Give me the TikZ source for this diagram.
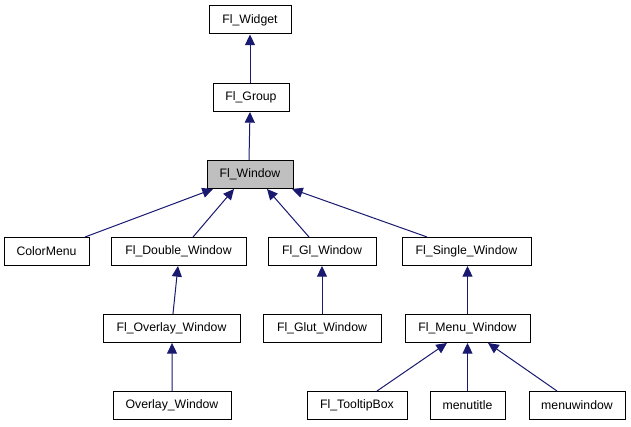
\documentclass[tikz,border=0pt]{standalone}
\usepackage{fontspec}
\setmainfont{Liberation Sans}
\usetikzlibrary{arrows.meta}
\definecolor{edgeblue}{HTML}{191970}
\definecolor{hilite}{HTML}{BFBFBF}
\begin{document}
\begin{tikzpicture}[x=0.75pt,y=-0.75pt,
  cls/.style={draw=black,line width=0.75pt,fill=white,inner sep=0pt,
    minimum height=21pt,font=\fontsize{9.2}{10}\selectfont},
  inh/.style={draw=edgeblue,line width=0.75pt,
    -{Triangle[length=8pt,width=7.5pt,fill=edgeblue]}}]
\useasboundingbox (0,0) rectangle (631,427);
\fill[white] (0,0) rectangle (631,427);
\node[cls,minimum width=61.5pt] (widget) at (250,20) {Fl\_Widget};
\node[cls,minimum width=57pt] (group) at (251,97.5) {Fl\_Group};
\node[cls,minimum width=64.5pt,fill=hilite] (window) at (250,174.5) {Fl\_Window};
\node[cls,minimum width=63.75pt] (colormenu) at (46.5,251.5) {ColorMenu};
\node[cls,minimum width=101.25pt] (double) at (178.5,251.5) {Fl\_Double\_Window};
\node[cls,minimum width=81pt] (gl) at (322,251.5) {Fl\_Gl\_Window};
\node[cls,minimum width=96.75pt] (single) at (466.5,251.5) {Fl\_Single\_Window};
\node[cls,minimum width=102.75pt] (overlay) at (171.5,328.5) {Fl\_Overlay\_Window};
\node[cls,minimum width=88.5pt] (glut) at (322,328.5) {Fl\_Glut\_Window};
\node[cls,minimum width=93.75pt] (menu) at (467.5,328.5) {Fl\_Menu\_Window};
\node[cls,minimum width=88.5pt] (overlaywin) at (172,405.5) {Overlay\_Window};
\node[cls,minimum width=75pt] (tooltip) at (357,405.5) {Fl\_TooltipBox};
\node[cls,minimum width=56.25pt] (menutitle) at (467.5,405.5) {menutitle};
\node[cls,minimum width=72pt] (menuwindow) at (577,405.5) {menuwindow};
\draw[inh] ([xshift=-0.75pt]group.north) -- (widget.south);
\draw[inh] ([xshift=-0.75pt]window.north) -- ([xshift=-0.75pt]group.south);
\draw[inh] ([xshift=28.9pt]colormenu.north) -- ([xshift=-27.75pt]window.south);
\draw[inh] ([xshift=10.9pt]double.north) -- ([xshift=-12pt]window.south);
\draw[inh] ([xshift=-9.75pt]gl.north) -- ([xshift=12.75pt]window.south);
\draw[inh] ([xshift=-29.6pt]single.north) -- ([xshift=31.5pt]window.south);
\draw[inh] ([xshift=1.1pt]overlay.north) -- ([xshift=-0.4pt]double.south);
\draw[inh] (glut.north) -- (gl.south);
\draw[inh] (menu.north) -- ([xshift=0.75pt]single.south);
\draw[inh] (overlaywin.north) -- ([xshift=0.4pt]overlay.south);
\draw[inh] ([xshift=15pt]tooltip.north) -- ([xshift=-15.4pt]menu.south);
\draw[inh] (menutitle.north) -- (menu.south);
\draw[inh] ([xshift=-15pt]menuwindow.north) -- ([xshift=15.4pt]menu.south);
\end{tikzpicture}
\end{document}
